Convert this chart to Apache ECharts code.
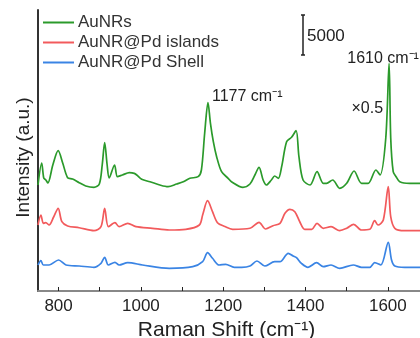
<!DOCTYPE html>
<html><head><meta charset="utf-8">
<script src="https://cdn.jsdelivr.net/npm/echarts@6/dist/echarts.min.js"></script>
<style>html,body{margin:0;padding:0;background:#fff}#c{width:420px;height:338px}</style>
</head><body><div id="c"></div>
<script>
// ---- data ----
const seriesNames = ['AuNRs', 'AuNR@Pd islands', 'AuNR@Pd Shell'];

const greenShift = [750,759,764,769,774,786,799,810,822,834,850,866,886,899,906,912,918,923,936,943,955,972,984,990,1002,1022,1046,1066,1087,1103,1119,1139,1147,1155,1163,1169,1176,1184,1196,1212,1220,1248,1265,1277,1287,1297,1305,1317,1325,1334,1342,1354,1366,1377,1384,1394,1411,1428,1443,1451,1466,1483,1500,1518,1536,1552,1571,1581,1595,1603,1607,1613,1620,1629,1653,1678,1700];
const greenIntensity = [13250,16000,14125,13875,13500,15750,17540,16000,14160,14000,13540,13125,12960,13375,15750,18540,15750,14125,15750,14290,14500,14790,14710,14500,13960,13660,13250,13040,13375,13660,14090,14290,15125,19750,23540,20960,18660,16790,14910,14090,13660,12960,13375,14500,15460,13875,13250,13875,14375,14090,15540,18660,19210,20040,16790,13875,13250,14910,13460,13460,13875,12840,13460,15000,13460,13460,15125,14500,19125,28460,19125,14910,14290,13660,13460,13460,13460];

const redShift = [750,757,763,769,777,788,799,808,822,850,886,903,912,921,937,947,968,988,1028,1069,1109,1142,1150,1162,1174,1186,1204,1223,1265,1287,1303,1321,1338,1350,1362,1374,1386,1398,1415,1428,1443,1462,1483,1500,1517,1536,1556,1568,1576,1589,1601,1607,1617,1641,1678,1700];
const redIntensity = [8250,9500,8460,8540,8250,9250,10340,8660,8125,7910,7540,8040,10340,8040,8540,8040,8460,8040,7840,7625,7710,8250,9500,11290,9910,8540,8060,7710,7840,8590,7750,8160,8460,9710,10210,9910,8660,7710,7710,8460,7840,8040,7540,7840,8340,7625,7710,8790,8250,8875,13040,9290,7840,7540,7540,7540];

const blueShift = [750,757,763,777,800,818,850,886,903,912,921,937,947,968,1004,1069,1126,1150,1162,1174,1190,1206,1227,1245,1265,1282,1301,1325,1338,1358,1370,1378,1390,1406,1427,1443,1462,1483,1516,1536,1556,1568,1583,1601,1609,1617,1641,1678,1700];
const blueIntensity = [3250,3790,3250,3250,3875,3250,3125,2960,3460,4210,3250,3590,3250,3540,3250,2840,3040,3660,4790,4090,3250,3340,2960,2960,3125,3750,3125,3660,3660,4710,4375,4160,3460,2960,3540,3040,3250,2840,3250,2960,2960,3540,3250,6090,3875,3125,2960,2960,2960];

const xTickLabels = [800, 1000, 1200, 1400, 1600];
const xTickMarks = [800, 900, 1000, 1100, 1200, 1300, 1400, 1500, 1600, 1700];
const scaleBarValue = 5000;
const peakLabelA = '1177 cm\u207B\u00B9';
const peakLabelB = '1610 cm\u207B\u00B9';
const factorLabel = '\u00D70.5';

// ---- chart ----
const FONT = '"Liberation Sans", Arial, sans-serif';
const colors = ['#2b9a2b', '#f25a5c', '#3a84e4'];
const chart = echarts.init(document.getElementById('c'), null, {renderer: 'canvas'});
const pairs = (x, y) => x.map((v, i) => [v, y[i]]);
const data = [pairs(greenShift, greenIntensity), pairs(redShift, redIntensity), pairs(blueShift, blueIntensity)];

chart.setOption({
  animation: false,
  backgroundColor: '#fff',
  textStyle: {fontFamily: FONT},
  grid: {left: 38, top: 10, width: 391, height: 281, containLabel: false, outerBoundsMode: 'none'},
  legend: {
    orient: 'vertical', left: 43, top: 14, padding: 0, itemGap: 3,
    itemWidth: 31, itemHeight: 2, icon: 'rect',
    textStyle: {fontFamily: FONT, fontSize: 17, color: '#333', lineHeight: 15, padding: [0, 0, 0, -1]},
    data: seriesNames
  },
  xAxis: [{
    type: 'value', min: 750, max: 1700, position: 'bottom',
    name: 'Raman Shift (cm\u207B\u00B9)', nameLocation: 'middle', nameGap: 22,
    nameTextStyle: {fontFamily: FONT, fontSize: 21, color: '#222', padding: [0, 14, 0, 0]},
    axisLine: {show: true, onZero: false, lineStyle: {color: '#222', width: 2}},
    axisTick: {show: true, inside: true, length: 4, customValues: xTickMarks, lineStyle: {color: '#222', width: 1}},
    axisLabel: {show: true, margin: 7, fontFamily: FONT, fontSize: 17, color: '#222', customValues: xTickLabels, formatter: v => String(v)},
    splitLine: {show: false}
  }, {
    type: 'value', min: 750, max: 1700, position: 'top',
    axisLine: {show: true, lineStyle: {color: '#888', width: 2}},
    axisTick: {show: false}, axisLabel: {show: false}, splitLine: {show: false}
  }],
  yAxis: {
    type: 'value', min: 0, max: 35125,
    name: 'Intensity (a.u.)', nameLocation: 'middle', nameGap: 5,
    nameTextStyle: {fontFamily: FONT, fontSize: 19, color: '#222', padding: [0, 14, 0, 0]},
    axisLine: {show: true, lineStyle: {color: '#333', width: 2}},
    axisTick: {show: false}, axisLabel: {show: false}, splitLine: {show: false}
  },
  series: seriesNames.map((n, i) => ({
    name: n, type: 'line', xAxisIndex: 0, data: data[i], showSymbol: false, symbol: 'none',
    smooth: 0.3, lineStyle: {color: colors[i], width: 1.7}, itemStyle: {color: colors[i]}, z: 3 - i
  }))
});

// ---- annotations placed from data coordinates ----
function peakOf(x, y, lo, hi) {
  let best = null;
  x.forEach((v, i) => { if (v >= lo && v <= hi && (!best || y[i] > best[1])) best = [v, y[i]]; });
  return best;
}
const pA = chart.convertToPixel({xAxisIndex: 0, yAxisIndex: 0}, peakOf(greenShift, greenIntensity, 1100, 1250));
const pB = chart.convertToPixel({xAxisIndex: 0, yAxisIndex: 0}, peakOf(greenShift, greenIntensity, 1550, 1700));
const y0 = chart.convertToPixel({yAxisIndex: 0}, 0);
const y5 = chart.convertToPixel({yAxisIndex: 0}, scaleBarValue);
const barH = y0 - y5;
const barX = 303, barTop = 15;
const txt = (t, x, y, align) => ({type: 'text', x: x, y: y, style: {text: t, font: '16px "Liberation Sans", Arial, sans-serif', fill: '#222', align: align, verticalAlign: 'middle'}});
chart.setOption({
  graphic: [
    txt(peakLabelA, pA[0] + 4, pA[1] - 6, 'left'),
    txt(peakLabelB, pB[0] - 6, pB[1] - 5, 'center'),
    txt(factorLabel, pB[0] - 6, pB[1] + 45, 'right'),
    {type: 'line', shape: {x1: barX, y1: barTop, x2: barX, y2: barTop + barH}, style: {stroke: '#222', lineWidth: 1.5}},
    {type: 'line', shape: {x1: barX - 2, y1: barTop, x2: barX + 2, y2: barTop}, style: {stroke: '#222', lineWidth: 1.5}},
    {type: 'line', shape: {x1: barX - 2, y1: barTop + barH, x2: barX + 2, y2: barTop + barH}, style: {stroke: '#222', lineWidth: 1.5}},
    {type: 'text', x: barX + 4, y: barTop + barH / 2 + 1, style: {text: String(scaleBarValue), font: '17px "Liberation Sans", Arial, sans-serif', fill: '#222', align: 'left', verticalAlign: 'middle'}}
  ]
});
</script>
</body></html>
